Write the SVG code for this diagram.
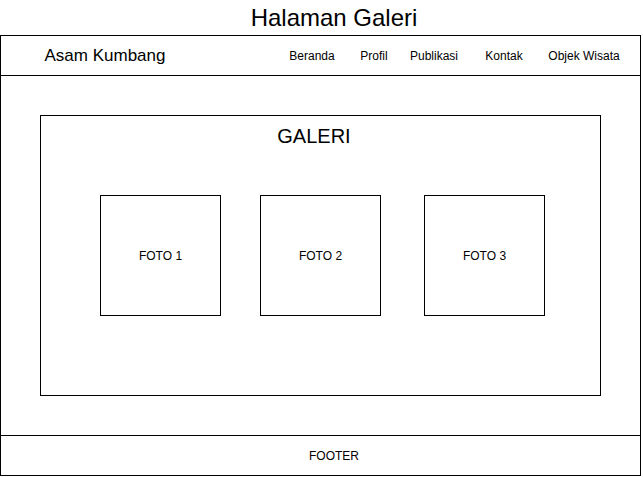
<svg xmlns="http://www.w3.org/2000/svg" width="643" height="477" viewBox="0 0 643 477">
<style>
.b{fill:#fff;stroke:#000;stroke-width:1}
text{font-family:"Liberation Sans",Arial,sans-serif;fill:#000;text-anchor:middle}
.s{font-size:12px}
</style>
<rect width="643" height="477" fill="#fff"/>
<g id="title"><text x="334" y="26" font-size="24">Halaman Galeri</text></g>
<g id="page"><rect class="b" x="0.5" y="35.5" width="640" height="440"/></g>
<g id="header"><rect class="b" x="0.5" y="35.5" width="640" height="40"/>
<text x="105" y="61" font-size="17">Asam Kumbang</text>
<text class="s" x="312" y="60">Beranda</text>
<text class="s" x="374" y="60">Profil</text>
<text class="s" x="434" y="60">Publikasi</text>
<text class="s" x="504" y="60">Kontak</text>
<text class="s" x="584" y="60">Objek Wisata</text></g>
<g id="galeri"><rect class="b" x="40.5" y="115.5" width="560" height="280"/>
<text x="314" y="143" font-size="20">GALERI</text></g>
<g id="foto1"><rect class="b" x="100.5" y="195.5" width="120" height="120"/><text class="s" x="160.5" y="260">FOTO 1</text></g>
<g id="foto2"><rect class="b" x="260.5" y="195.5" width="120" height="120"/><text class="s" x="320.5" y="260">FOTO 2</text></g>
<g id="foto3"><rect class="b" x="424.5" y="195.5" width="120" height="120"/><text class="s" x="484.5" y="260">FOTO 3</text></g>
<g id="footer"><rect class="b" x="0.5" y="435.5" width="640" height="40"/><text class="s" x="334" y="460">FOOTER</text></g>
<g id="connectors"/>
</svg>
